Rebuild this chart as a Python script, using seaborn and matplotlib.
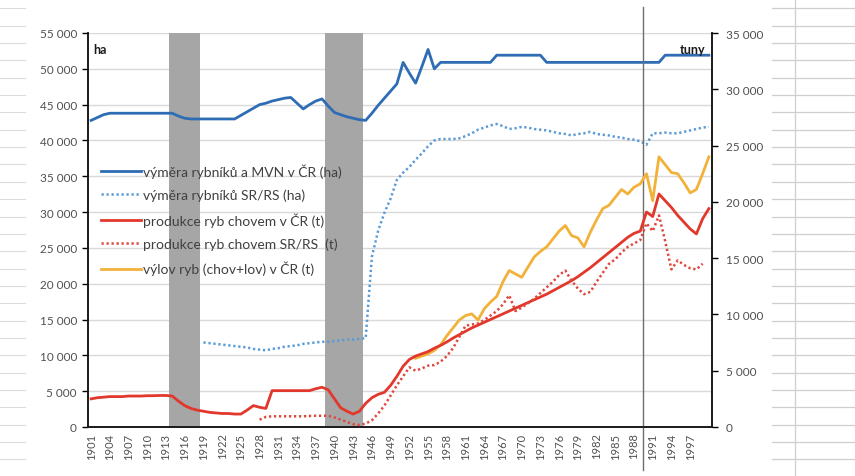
import numpy as np
import pandas as pd
import matplotlib
matplotlib.use("Agg")
import matplotlib.pyplot as plt
from matplotlib.ticker import FuncFormatter, MultipleLocator
from matplotlib.lines import Line2D
import seaborn as sns

# ---------------- data ----------------
years_cr_area = list(range(1901, 2001))
cr_area_ha = [
    42800, 43200, 43600, 43800, 43800, 43800, 43800, 43800, 43800, 43800,   # 1901-1910
    43800, 43800, 43800, 43800, 43400, 43100, 43000, 43000, 43000, 43000,   # 1911-1920
    43000, 43000, 43000, 43000, 43500, 44000, 44500, 45000, 45200, 45500,   # 1921-1930
    45700, 45900, 46000, 45200, 44400, 45000, 45500, 45800, 44800, 43900,   # 1931-1940
    43600, 43300, 43100, 42900, 42800, 43800, 44900, 45900, 46900, 47900,   # 1941-1950
    50900, 49400, 48000, 50300, 52700, 50000, 50900, 50900, 50900, 50900,   # 1951-1960
    50900, 50900, 50900, 50900, 50900, 51900, 51900, 51900, 51900, 51900,   # 1961-1970
    51900, 51900, 51900, 50900, 50900, 50900, 50900, 50900, 50900, 50900,   # 1971-1980
    50900, 50900, 50900, 50900, 50900, 50900, 50900, 50900, 50900, 50900,   # 1981-1990
    50900, 50900, 51900, 51900, 51900, 51900, 51900, 51900, 51900, 51900,   # 1991-2000
]

years_sr_area = list(range(1919, 2001))
sr_area_ha = [
    11800, 11700,                                                            # 1919-1920
    11600, 11500, 11400, 11300, 11200, 11100, 10900, 10800, 10700, 10900,   # 1921-1930
    11000, 11200, 11300, 11400, 11600, 11700, 11800, 11900, 11900, 12000,   # 1931-1940
    12100, 12200, 12200, 12300, 12400, 23800, 27400, 29900, 31900, 34500,   # 1941-1950
    35500, 36300, 37300, 38200, 39200, 40000, 40200, 40200, 40200, 40300,   # 1951-1960
    40600, 41000, 41500, 41800, 42100, 42300, 42000, 41600, 41700, 41900,   # 1961-1970
    41800, 41600, 41500, 41400, 41200, 41000, 40900, 40700, 40900, 41000,   # 1971-1980
    41200, 40900, 40800, 40700, 40500, 40400, 40200, 40100, 39900, 39400,   # 1981-1990
    41000, 41000, 41100, 41000, 41000, 41200, 41400, 41600, 41800, 41900,   # 1991-2000
]

years_cr_prod = list(range(1901, 2001))
cr_prod_t = [
    2500, 2600, 2650, 2700, 2700, 2700, 2750, 2750, 2750, 2780,             # 1901-1910
    2780, 2800, 2800, 2750, 2300, 1900, 1650, 1500, 1400, 1300,             # 1911-1920
    1250, 1200, 1200, 1150, 1150, 1500, 1900, 1750, 1650, 3230,             # 1921-1930
    3230, 3230, 3230, 3230, 3230, 3230, 3400, 3530, 3300, 2500,             # 1931-1940
    1700, 1400, 1150, 1400, 2100, 2600, 2900, 3080, 3700, 4500,             # 1941-1950
    5400, 6000, 6300, 6500, 6700, 7000, 7250, 7550, 7900, 8200,             # 1951-1960
    8500, 8800, 9050, 9300, 9550, 9800, 10050, 10300, 10550, 10800,         # 1961-1970
    11050, 11300, 11550, 11800, 12100, 12400, 12700, 13000, 13350, 13750,   # 1971-1980
    14150, 14600, 15050, 15500, 15950, 16400, 16850, 17200, 17400, 19100,   # 1981-1990
    18700, 20700, 20100, 19500, 18800, 18200, 17600, 17150, 18500, 19400,   # 1991-2000
]

years_sr_prod = list(range(1928, 2000))
sr_prod_t = [
    650, 900, 950,                                                           # 1928-1930
    950, 950, 950, 950, 950, 980, 1000, 1000, 1000, 850,                     # 1931-1940
    650, 450, 250, 180, 300, 600, 1200, 1900, 2800, 3700,                    # 1941-1950
    4500, 5300, 5000, 5200, 5450, 5500, 5800, 6300, 7000, 8000,              # 1951-1960
    9000, 9100, 9200, 9500, 9900, 10300, 10900, 11700, 10300, 10600,         # 1961-1970
    11000, 11400, 11900, 12400, 12900, 13500, 13900, 13000, 12300, 11800,    # 1971-1980
    12000, 12900, 13700, 14500, 14900, 15500, 16000, 16300, 16600, 18100,    # 1981-1990
    17400, 18800, 16500, 14000, 14800, 14400, 14100, 14000, 14500,           # 1991-1999
]

years_catch = list(range(1953, 2001))
catch_t = [
    6100, 6300, 6500, 6800, 7300, 8100, 8800, 9500,                          # 1953-1960
    9900, 10050, 9500, 10500, 11100, 11600, 12900, 13900, 13600, 13300,      # 1961-1970
    14200, 15100, 15600, 16000, 16700, 17400, 17900, 17000, 16800, 16000,    # 1971-1980
    17300, 18400, 19400, 19700, 20400, 21100, 20700, 21300, 21600, 22500,    # 1981-1990
    20100, 24000, 23300, 22600, 22500, 21700, 20800, 21100, 22500, 24000,    # 1991-2000
]

war_periods = [(1914, 1918), (1939, 1944)]
marker_year = 1989.5
xtick_years = list(range(1901, 1998, 3))

labels = [
    "výměra rybníků a MVN v ČR (ha)",
    "výměra rybníků SR/RS (ha)",
    "produkce ryb chovem v ČR (t)",
    "produkce ryb chovem SR/RS  (t)",
    "výlov ryb (chov+lov) v ČR (t)",
]

# ---------------- style ----------------
plt.rcParams["font.family"] = ["Lato", "DejaVu Sans"]
C_BLUE = "#2e6db4"
C_BLUE_DOT = "#5b9bd5"
C_RED = "#e2372b"
C_RED_DOT = "#e0463c"
C_YEL = "#f2b23a"
TXT = "#404040"

fig = plt.figure(figsize=(8.55, 4.77), dpi=100)
ax = fig.add_axes([88 / 855, 49 / 477, 624 / 855, 394 / 477])
ax2 = ax.twinx()

# spreadsheet cell lines around the chart object
for yy in np.arange(9.3, 477, 17.35):
    fy = 1 - yy / 477
    fig.add_artist(Line2D([0, 25 / 855], [fy, fy], color="#dcdcdc", lw=0.8, zorder=0))
    fig.add_artist(Line2D([772 / 855, 1], [fy, fy], color="#cfcfcf", lw=0.9, zorder=0))
fig.add_artist(Line2D([795 / 855, 795 / 855], [0, 1], color="#cfcfcf", lw=0.9, zorder=0))

# war bands
for a, b in war_periods:
    ax.axvspan(a - 0.5, b + 0.5, color="#a6a6a6", zorder=1, lw=0)

df1 = pd.DataFrame({"rok": years_cr_area, "v": cr_area_ha})
df2 = pd.DataFrame({"rok": years_sr_area, "v": sr_area_ha})
df3 = pd.DataFrame({"rok": years_cr_prod, "v": cr_prod_t})
df4 = pd.DataFrame({"rok": years_sr_prod, "v": sr_prod_t})
df5 = pd.DataFrame({"rok": years_catch, "v": catch_t})

dot = (0, (0.9, 1.1))
sns.lineplot(data=df1, x="rok", y="v", ax=ax, color=C_BLUE, linewidth=2.0, zorder=3)
sns.lineplot(data=df2, x="rok", y="v", ax=ax, color=C_BLUE_DOT, linewidth=1.8, linestyle=dot, zorder=3)
sns.lineplot(data=df3, x="rok", y="v", ax=ax2, color=C_RED, linewidth=2.0, zorder=3)
sns.lineplot(data=df4, x="rok", y="v", ax=ax2, color=C_RED_DOT, linewidth=1.8, linestyle=dot, zorder=3)
sns.lineplot(data=df5, x="rok", y="v", ax=ax2, color=C_YEL, linewidth=2.0, zorder=2.9)

ax.axvline(marker_year, ymin=-0.11, ymax=1.065, color="#6e6e6e", lw=1.0, clip_on=False, zorder=5)

# axes
ax.set_xlim(1900.5, 2000.5)
ax.set_ylim(0, 55000)
ax2.set_ylim(0, 35000)
ax.set_xlabel("")
ax.set_ylabel("")
ax2.set_ylabel("")

fmt = FuncFormatter(lambda v, p: f"{v:,.0f}".replace(",", " "))
ax.yaxis.set_major_locator(MultipleLocator(5000))
ax2.yaxis.set_major_locator(MultipleLocator(5000))
ax.yaxis.set_major_formatter(fmt)
ax2.yaxis.set_major_formatter(fmt)

ax.set_xticks(xtick_years)
ax.set_xticklabels([str(y) for y in xtick_years], rotation=90)
ax.tick_params(axis="x", length=0, labelsize=8, labelcolor="#505050", pad=4)
ax.tick_params(axis="y", length=4, width=1.0, labelsize=8.5, labelcolor="#505050", pad=4)
ax2.tick_params(axis="y", length=4, width=1.0, labelsize=8.5, labelcolor="#505050", pad=6)

ax.yaxis.grid(True, color="#d9d9d9", lw=1.0, zorder=0)
ax.set_axisbelow(True)
for s in ["top"]:
    ax.spines[s].set_visible(False)
    ax2.spines[s].set_visible(False)
for a_ in (ax, ax2):
    for s in ["left", "right", "bottom"]:
        a_.spines[s].set_color("#1a1a1a")
        a_.spines[s].set_linewidth(1.2)

ax.text(0.008, 0.975, "ha", transform=ax.transAxes, fontsize=9, fontweight="bold",
        color="#1a1a1a", va="top", ha="left")
ax2.text(0.99, 0.975, "tuny", transform=ax.transAxes, fontsize=9, fontweight="bold",
         color="#1a1a1a", va="top", ha="right")

for a_ in (ax, ax2):
    lg = a_.get_legend()
    if lg is not None:
        lg.remove()

handles = [
    Line2D([], [], color=C_BLUE, lw=2.0),
    Line2D([], [], color=C_BLUE_DOT, lw=1.8, linestyle=dot),
    Line2D([], [], color=C_RED, lw=2.0),
    Line2D([], [], color=C_RED_DOT, lw=1.8, linestyle=dot),
    Line2D([], [], color=C_YEL, lw=2.0),
]
leg = ax2.legend(handles, labels, loc="upper left", bbox_to_anchor=(0.012, 0.683),
                 frameon=False, fontsize=10, labelspacing=0.78, handlelength=2.9,
                 handletextpad=0.15, borderaxespad=0)
for t in leg.get_texts():
    t.set_color(TXT)
leg.set_zorder(6)

fig.savefig("out.png", dpi=100)
